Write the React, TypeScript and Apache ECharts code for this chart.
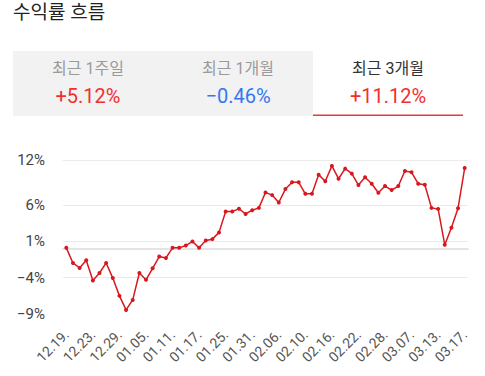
import React, { useEffect, useRef } from "react";
import * as echarts from "echarts";

const dates = [
  "12.19", "12.20", "12.21", "12.22", "12.23", "12.26", "12.27", "12.28", "12.29",
  "01.02", "01.03", "01.04", "01.05", "01.06", "01.09", "01.10", "01.11", "01.12", "01.13",
  "01.16", "01.17", "01.18", "01.19", "01.20", "01.25", "01.26", "01.27", "01.30", "01.31",
  "02.01", "02.02", "02.03", "02.06", "02.07", "02.08", "02.09", "02.10", "02.13", "02.14",
  "02.15", "02.16", "02.17", "02.20", "02.21", "02.22", "02.23", "02.24", "02.27", "02.28",
  "03.02", "03.03", "03.06", "03.07", "03.08", "03.09", "03.10", "03.13", "03.14", "03.15",
  "03.16", "03.17",
];

const returns = [
  0.12, -1.96, -2.66, -1.6, -4.37, -3.35, -1.96, -4.05, -6.5, -8.44,
  -7.06, -3.35, -4.28, -2.7, -1.08, -1.27, 0.12, 0.12, 0.44, 1.0,
  0.12, 1.14, 1.32, 2.25, 5.12, 5.12, 5.52, 4.79, 5.31, 5.63,
  7.76, 7.39, 6.37, 8.22, 9.15, 9.15, 7.57, 7.57, 10.21, 9.29,
  11.42, 9.65, 11.04, 10.35, 8.78, 9.85, 8.96, 7.71, 8.64, 8.08,
  8.64, 10.72, 10.54, 8.96, 8.82, 5.63, 5.49, 0.54, 2.9, 5.58,
  11.12,
];

const yTicks = [-9, -4, 1, 6, 12.23];

const tabLabels = ["최근 1주일", "최근 1개월", "최근 3개월"];
const tabValues = ["+5.12%", "−0.46%", "+11.12%"];
const tabValueColors = ["#f0302f", "#3478f0", "#f0302f"];

const FONT = "Roboto, 'Noto Sans CJK KR', sans-serif";

export default function App() {
  const ref = useRef<HTMLDivElement>(null);
  useEffect(() => {
    if (!ref.current) return;
    const chart = echarts.init(ref.current, undefined, { renderer: "svg" });
    const tabW = 150;
    const tabX0 = 13;
    const graphics: any[] = [
      {
        type: "text",
        left: 13,
        top: 3,
        style: { text: "수익률 흐름", fontSize: 19, fill: "#222", fontFamily: FONT },
      },
      {
        type: "rect",
        shape: { x: tabX0, y: 51, width: tabW * 2, height: 65 },
        style: { fill: "#f2f2f2" },
      },
      {
        type: "rect",
        shape: { x: tabX0 + tabW * 2, y: 114.5, width: tabW, height: 1.5 },
        style: { fill: "#e53935" },
      },
    ];
    tabLabels.forEach((t, i) => {
      const cx = tabX0 + tabW * i + tabW / 2;
      graphics.push({
        type: "text",
        x: cx,
        y: 68,
        style: {
          text: t,
          fontSize: 16,
          fill: i === 2 ? "#333" : "#9a9a9a",
          fontFamily: FONT,
          align: "center",
          verticalAlign: "middle",
        },
      });
      graphics.push({
        type: "text",
        x: cx,
        y: 96,
        style: {
          text: tabValues[i],
          fontSize: 20,
          fill: tabValueColors[i],
          fontFamily: FONT,
          align: "center",
          verticalAlign: "middle",
        },
      });
    });

    const gridLines = yTicks.slice(1).map((v) => ({ yAxis: v }));

    chart.setOption({
      animation: false,
      textStyle: { fontFamily: FONT },
      graphic: graphics,
      grid: { left: 63, right: 17, top: 160, bottom: 62, containLabel: false },
      xAxis: {
        type: "category",
        data: dates,
        boundaryGap: true,
        axisLine: { show: true, lineStyle: { color: "#e4e4e4", width: 2 } },
        axisTick: { show: false },
        axisLabel: {
          interval: 3,
          rotate: 45,
          fontSize: 14,
          color: "#555",
          margin: 18,
          formatter: (v: string) => v + ".",
        },
      },
      yAxis: {
        type: "value",
        min: -9,
        max: 12.23,
        axisLine: { show: false },
        axisTick: { show: false },
        axisLabel: {
          customValues: yTicks,
          fontSize: 15,
          color: "#444",
          margin: 18,
          formatter: (v: number) => {
            const r = Math.round(v);
            return (r < 0 ? "−" + Math.abs(r) : String(r)) + "%";
          },
        },
        splitLine: { show: false },
      },
      series: [
        {
          type: "line",
          data: returns,
          symbol: "circle",
          symbolSize: 4,
          showSymbol: true,
          z: 3,
          lineStyle: { color: "#d7191f", width: 1.5 },
          itemStyle: { color: "#d7191f" },
          markLine: {
            silent: true,
            symbol: "none",
            label: { show: false },
            lineStyle: { color: "#ebebeb", width: 1, type: "solid" },
            emphasis: { disabled: true },
            z: 1,
            data: gridLines,
          },
        },
      ],
    });
    return () => chart.dispose();
  }, []);
  return (
    <div
      ref={ref}
      style={{ position: "fixed", left: 0, top: 0, width: 485, height: 376, background: "#fff" }}
    />
  );
}
